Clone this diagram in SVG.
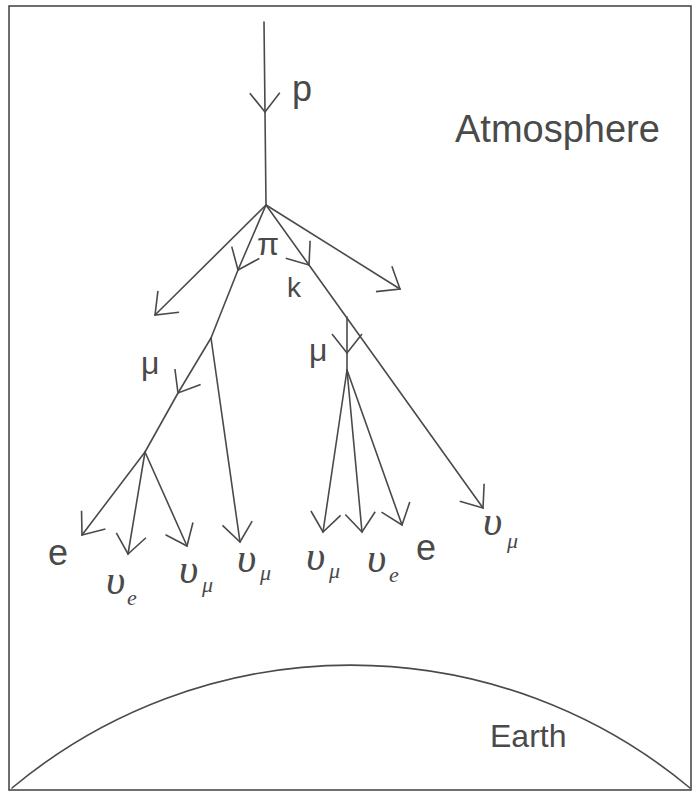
<svg xmlns="http://www.w3.org/2000/svg" width="698" height="795" viewBox="0 0 698 795">
<style>
.ln{stroke:#4a4a4a;stroke-width:1.6;fill:none;stroke-linecap:round}
.lbl{font-family:"Liberation Sans","Open Sans",sans-serif;fill:#4a4a4a}
.nu{font-family:"Liberation Serif","DejaVu Serif",serif;font-style:italic;fill:#4a4a4a}
</style>
<defs>
<marker id="ah" markerUnits="userSpaceOnUse" orient="auto" markerWidth="40" markerHeight="40" viewBox="-30 -20 40 40" refX="0" refY="0" overflow="visible">
<path d="M-19,-15 L0,0 L-19,15" fill="none" stroke="#4a4a4a" stroke-width="1.6"/>
</marker>
</defs>
<rect x="0" y="0" width="698" height="795" fill="#ffffff"/>
<g id="frame">
<rect class="ln" x="9" y="6" width="682" height="784"/>
</g>
<g id="earth">
<path class="ln" d="M12,788 A529,529 0 0 1 690,788" stroke-width="2"/>
<text class="lbl" x="490" y="747" font-size="32">Earth</text>
</g>
<g id="atmosphere">
<text class="lbl" x="455" y="142" font-size="38">Atmosphere</text>
</g>
<g id="connectors">
<path class="ln" d="M264,22 L265,112" marker-end="url(#ah)"/>
<path class="ln" d="M265,112 L266,205"/>
<path class="ln" d="M266,205 L155,315" marker-end="url(#ah)"/>
<path class="ln" d="M266,205 L238,270" marker-end="url(#ah)"/>
<path class="ln" d="M238,270 L211,338"/>
<path class="ln" d="M211,338 L240,542" marker-end="url(#ah)"/>
<path class="ln" d="M211,338 L178,393" marker-end="url(#ah)"/>
<path class="ln" d="M178,393 L145,452"/>
<path class="ln" d="M145,452 L82,535" marker-end="url(#ah)"/>
<path class="ln" d="M145,452 L128,554" marker-end="url(#ah)"/>
<path class="ln" d="M145,452 L187,546" marker-end="url(#ah)"/>
<path class="ln" d="M266,205 L309,265" marker-end="url(#ah)"/>
<path class="ln" d="M309,265 L483,508" marker-end="url(#ah)"/>
<path class="ln" d="M266,205 L400,289" marker-end="url(#ah)"/>
<path class="ln" d="M347,317 L347,353" marker-end="url(#ah)"/>
<path class="ln" d="M347,353 L347,370"/>
<path class="ln" d="M347,370 L323,532" marker-end="url(#ah)"/>
<path class="ln" d="M347,370 L362,532" marker-end="url(#ah)"/>
<path class="ln" d="M347,370 L402,525" marker-end="url(#ah)"/>
</g>
<g id="p"><text class="lbl" x="292" y="101" font-size="36">p</text></g>
<g id="pi"><text class="lbl" x="257" y="255" font-size="32">π</text></g>
<g id="k"><text class="lbl" x="287" y="297" font-size="28">k</text></g>
<g id="mu1"><text class="lbl" x="141" y="374" font-size="32">μ</text></g>
<g id="mu2"><text class="lbl" x="309" y="361" font-size="32">μ</text></g>
<g id="e1"><text class="lbl" x="48" y="565" font-size="36">e</text></g>
<g id="nue1"><text class="nu" x="106" y="594" font-size="42">υ</text><text class="nu" x="127" y="605" font-size="22">e</text></g>
<g id="numu1"><text class="nu" x="179" y="583" font-size="42">υ</text><text class="nu" x="202" y="592" font-size="22">μ</text></g>
<g id="numu2"><text class="nu" x="237" y="572" font-size="42">υ</text><text class="nu" x="260" y="580" font-size="22">μ</text></g>
<g id="numu3"><text class="nu" x="306" y="570" font-size="42">υ</text><text class="nu" x="329" y="578" font-size="22">μ</text></g>
<g id="nue2"><text class="nu" x="367" y="572" font-size="42">υ</text><text class="nu" x="389" y="582" font-size="22">e</text></g>
<g id="e2"><text class="lbl" x="416" y="560" font-size="36">e</text></g>
<g id="numu4"><text class="nu" x="483" y="535" font-size="42">υ</text><text class="nu" x="507" y="548" font-size="22">μ</text></g>
</svg>
